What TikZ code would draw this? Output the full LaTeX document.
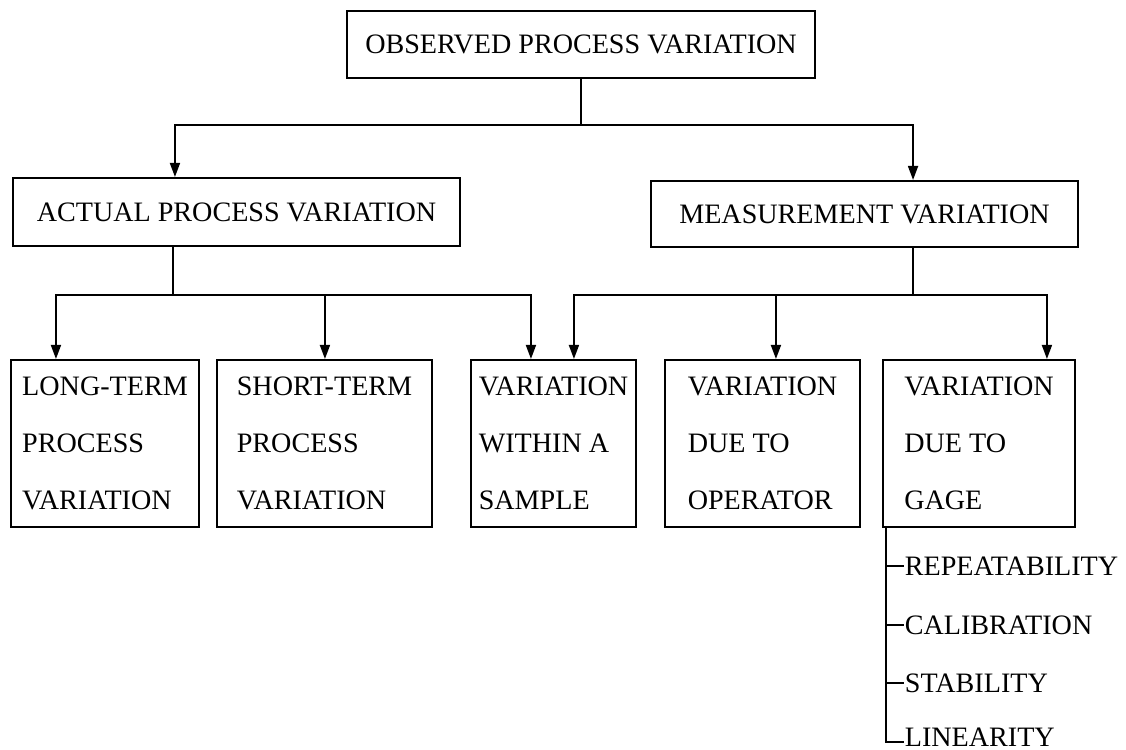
\documentclass[tikz,border=0pt]{standalone}
\usepackage{fontspec}
\setmainfont{Liberation Serif}
\usetikzlibrary{arrows.meta,positioning,calc}

\begin{document}
\begin{tikzpicture}
	[
		x				= 0.02cm,
		y				= -0.02cm,
		line width		= 1pt,
		headbox/.style	=
		{
			draw,
			line width		= 1.2pt,
			inner sep		= 0pt,
			font			= \fontsize{16}{19}\selectfont
		},
		leafbox/.style	=
		{
			draw,
			line width		= 1.2pt,
			minimum height	= 3.34cm,
			inner sep		= 0pt,
			align			= left,
			font			= \fontsize{16}{32.4}\selectfont,
			execute at begin node = \rule{0pt}{17.4pt}
		},
		gageitem/.style	=
		{
			anchor			= west,
			inner sep		= 0pt,
			font			= \fontsize{16}{19}\selectfont
		},
		arr/.style		=
		{
			-{Triangle[length=0.28cm, width=0.2cm]}
		}
	]
		%
		\useasboundingbox (0,0) rectangle (1126,750);
		%
		% top levels
		\node[headbox, minimum width=9.36cm, minimum height=1.34cm] (observed) at (581,44.5) {OBSERVED PROCESS VARIATION};
		\node[headbox, minimum width=8.94cm, minimum height=1.36cm] (actual) at (236.5,212) {ACTUAL PROCESS VARIATION};
		\node[headbox, minimum width=8.54cm, minimum height=1.32cm] (measure) at (864.5,214) {MEASUREMENT VARIATION};
		%
		% leaves
		\node[leafbox, minimum width=3.76cm] (longterm) at (105,443.5) {LONG-TERM\\PROCESS\\VARIATION};
		\node[leafbox, minimum width=4.30cm] (shortterm) at (324.5,443.5) {SHORT-TERM\\PROCESS\\VARIATION};
		\node[leafbox, minimum width=3.30cm] (within) at (553.5,443.5) {VARIATION\\WITHIN A\\SAMPLE};
		\node[leafbox, minimum width=3.90cm] (operator) at (762.5,443.5) {VARIATION\\DUE TO\\OPERATOR};
		\node[leafbox, minimum width=3.84cm] (gage) at (979,443.5) {VARIATION\\DUE TO\\GAGE};
		%
		% gage items
		\node[gageitem] (rep) at (904,566) {REPEATABILITY};
		\node[gageitem] (calib) at (904,625) {CALIBRATION};
		\node[gageitem] (stab) at (904,683) {STABILITY};
		\node[gageitem] (linear) at (904,737) {LINEARITY};
		%
		% connectors
		\coordinate (bus1) at (0,125);
		\coordinate (bus2) at (0,295);
		\draw (observed.south) -- (observed.south |- bus1) coordinate (ob);
		\draw[arr] (ob) -| ([xshift=3.26cm]actual.north west);
		\draw[arr] (ob) -| ([xshift=-3.32cm]measure.north east);
		%
		\draw ([xshift=3.22cm]actual.south west) coordinate (as) -- (as |- bus2) coordinate (ab);
		\draw[arr] (ab) -| ([xshift=0.92cm]longterm.north west);
		\draw[arr] (ab) -| ([xshift=2.18cm]shortterm.north west);
		\draw[arr] (ab) -| ([xshift=1.22cm]within.north west);
		%
		\draw ([xshift=-3.32cm]measure.south east) coordinate (ms) -- (ms |- bus2) coordinate (mb);
		\draw[arr] (mb) -| ([xshift=2.08cm]within.north west);
		\draw[arr] (mb) -| ([xshift=2.24cm]operator.north west);
		\draw[arr] (mb) -| ([xshift=3.30cm]gage.north west);
		%
		\coordinate (gtrunk) at ([xshift=0.08cm]gage.south west);
		\draw (gtrunk) |- ([yshift=-0.1cm]linear.west);
		\foreach \g in {rep,calib,stab}
			\draw (gtrunk |- \g.west) -- (\g.west);
		%
\end{tikzpicture}
\end{document}
